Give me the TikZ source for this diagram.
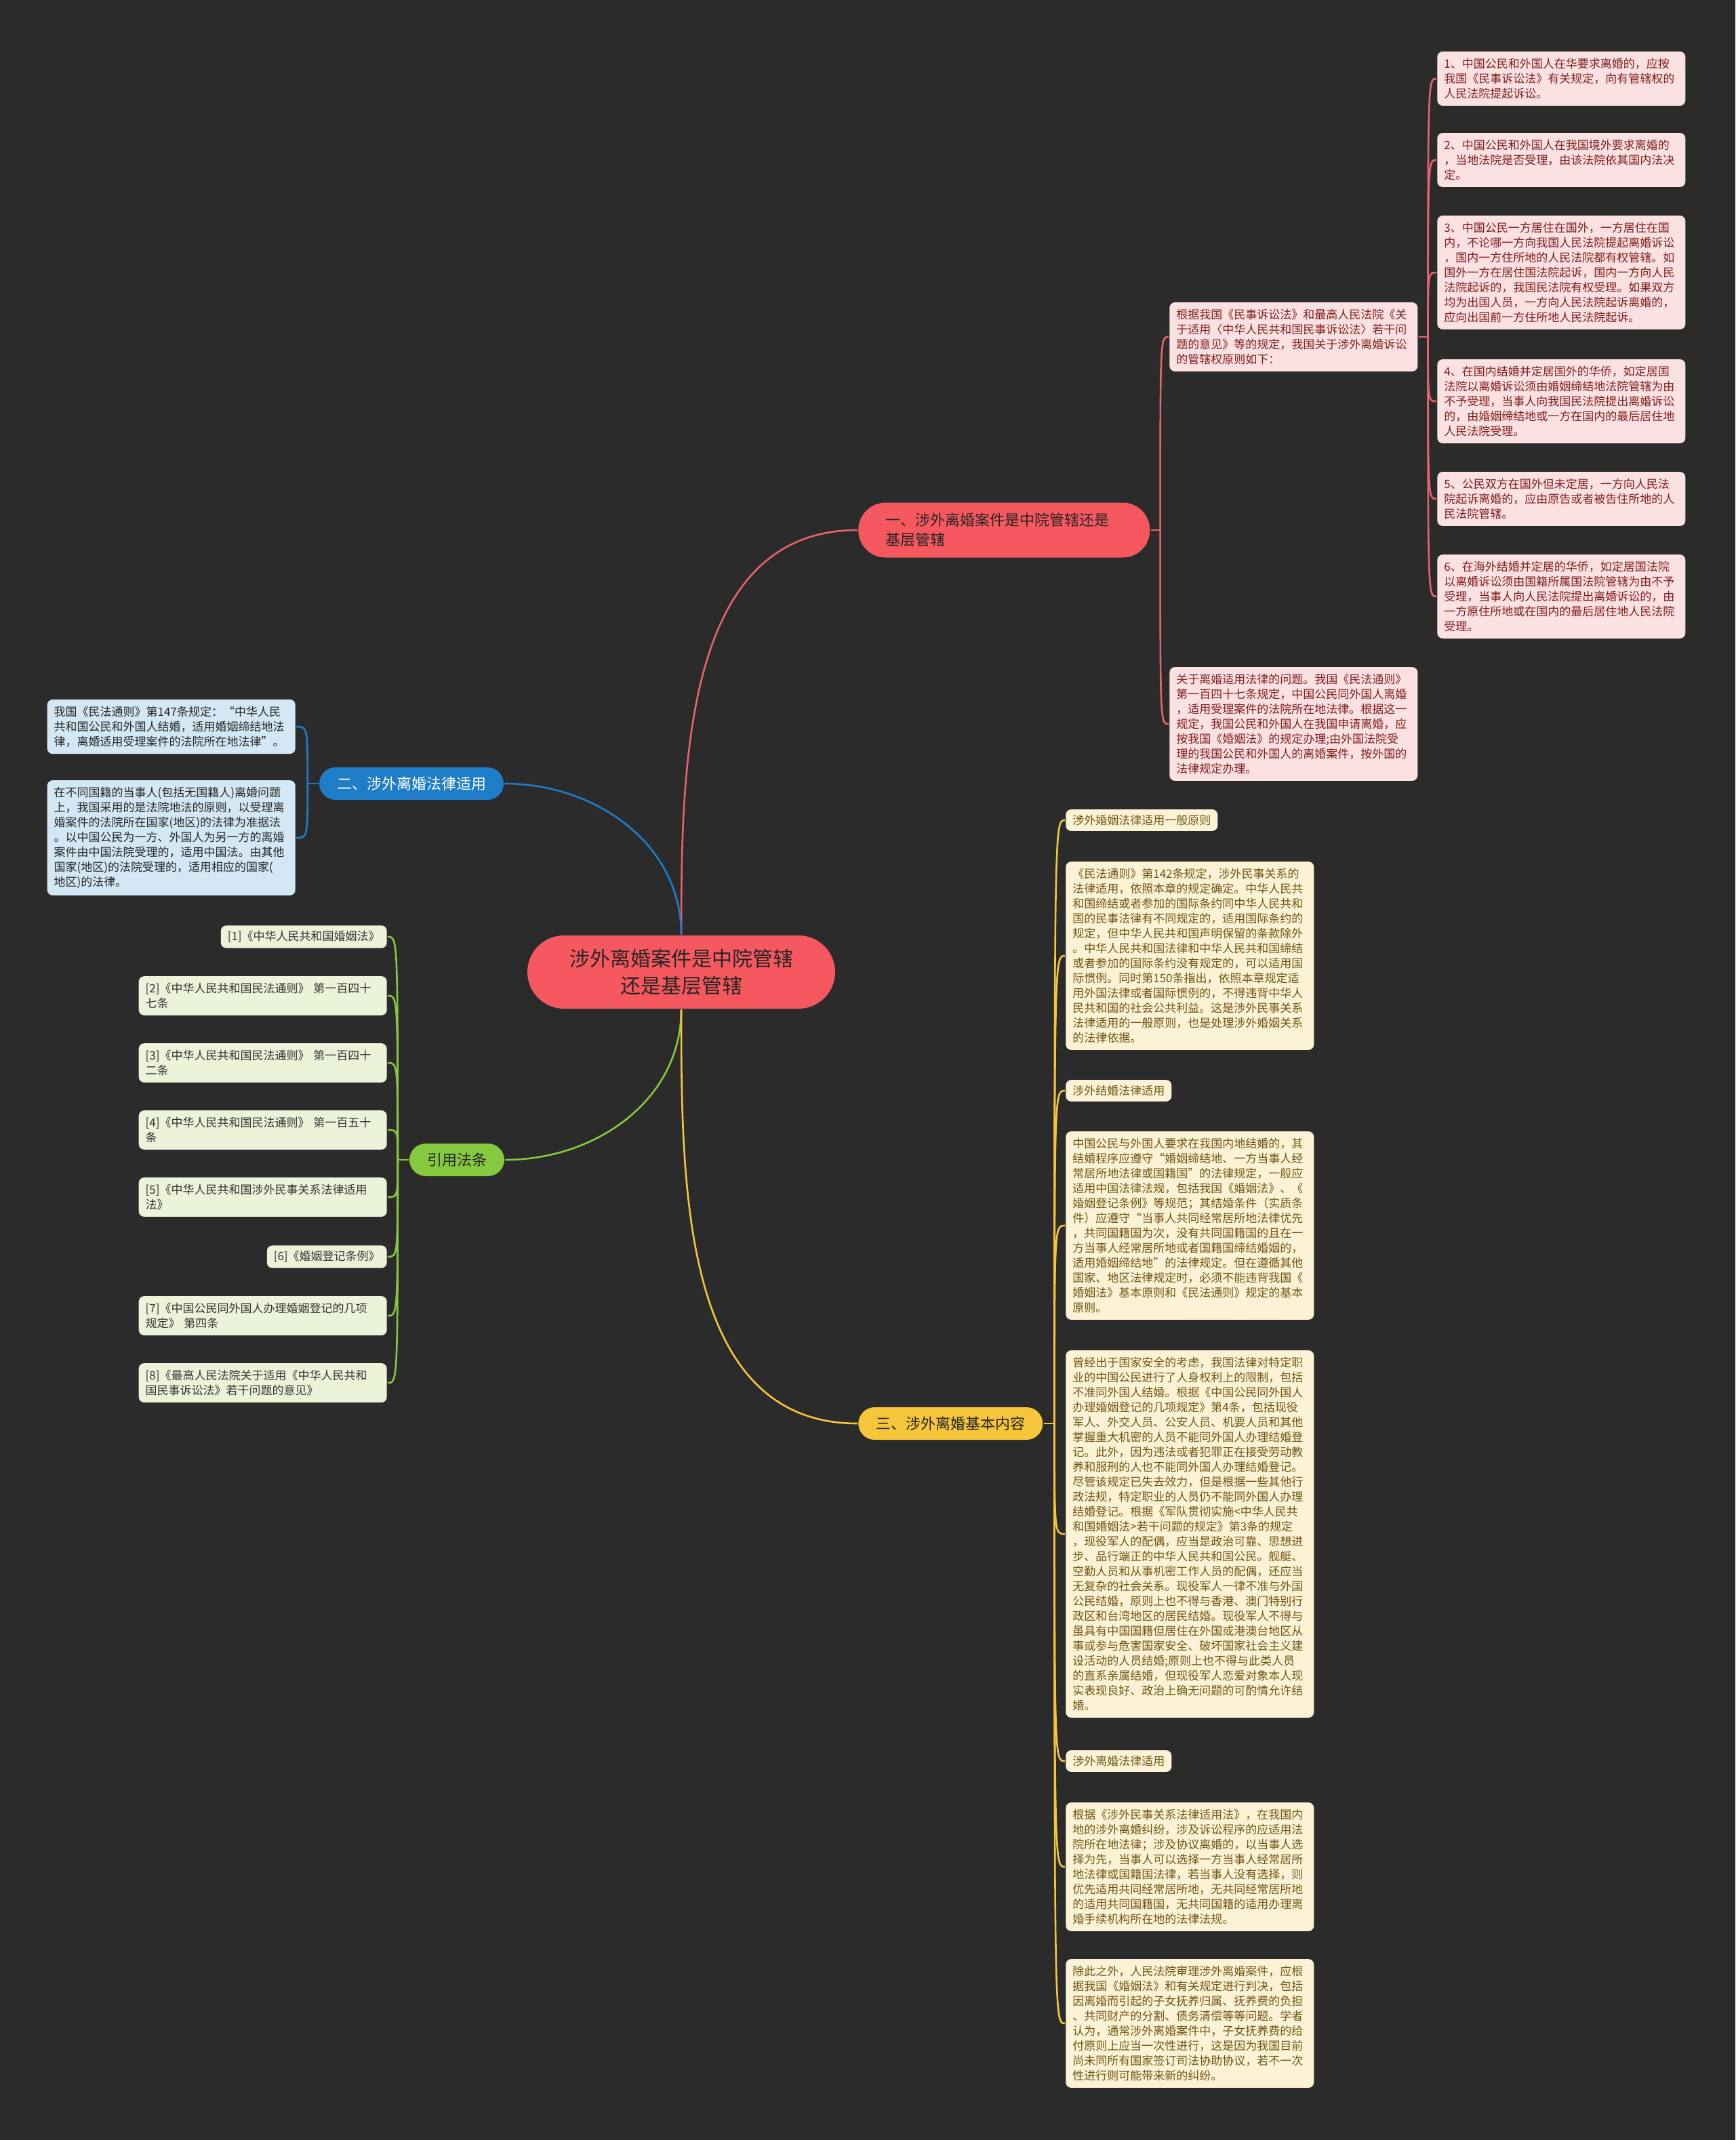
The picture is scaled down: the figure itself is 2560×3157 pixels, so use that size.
\documentclass[tikz,border=0pt]{standalone}
\usepackage{fontspec}
\setmainfont{Noto Sans CJK SC}
\definecolor{bgdark}{HTML}{2B2B2B}
\definecolor{redmain}{HTML}{F6585F}
\definecolor{redline}{HTML}{E8636B}
\definecolor{redleaf}{HTML}{FCE1E2}
\definecolor{redtext}{HTML}{7E1C1C}
\definecolor{bluemain}{HTML}{1F7DC8}
\definecolor{blueleaf}{HTML}{D3E7F4}
\definecolor{greenmain}{HTML}{86C83E}
\definecolor{greenleaf}{HTML}{EBF3D9}
\definecolor{yellowmain}{HTML}{F6C63A}
\definecolor{yellowleaf}{HTML}{FCF3D6}
\definecolor{yellowtext}{HTML}{6E5512}

\begin{document}
\begin{tikzpicture}
[x=0.5pt,y=-0.5pt,line width=1.3pt,
  leaf/.style={rounded corners=4pt,inner xsep=5pt,inner ysep=5pt,align=left,text width=173pt,font=\fontsize{8.5}{11}\selectfont},
  tag/.style={rounded corners=4pt,inner xsep=5pt,inner ysep=4pt,font=\fontsize{8.5}{11}\selectfont},
  topic/.style={inner xsep=13pt,inner ysep=0pt,minimum height=24pt,rounded corners=12pt,font=\fontsize{11}{14.5}\selectfont},
  redbox/.style={fill=redleaf,text=redtext},
  bluebox/.style={fill=blueleaf,text=black!85},
  greenbox/.style={fill=greenleaf,text=black!80},
  yellowbox/.style={fill=yellowleaf,text=yellowtext}]
\fill[bgdark] (0,0) rectangle (2560,3157);
\useasboundingbox (0,0) rectangle (2560,3157);

\node[fill=redmain,text=black!85,align=center,inner xsep=31pt,inner ysep=0pt,minimum height=54pt,rounded corners=27pt,font=\fontsize{15}{20}\selectfont]
  (root) at (1005,1434) {涉外离婚案件是中院管辖\\还是基层管辖};

\node[fill=redmain,text=black!85,anchor=west,align=left,text width=175pt,inner xsep=20pt,inner ysep=0pt,minimum height=40.5pt,rounded corners=20pt,font=\fontsize{11}{14.5}\selectfont]
  (court) at (1265,782) {一、涉外离婚案件是中院管辖还是\\基层管辖};
\node[topic,fill=bluemain,text=white] (lawuse) at (607,1156) {二、涉外离婚法律适用};
\node[topic,fill=greenmain,text=black!85] (refs) at (674,1711) {引用法条};
\node[topic,fill=yellowmain,text=black!85,anchor=west] (basics) at (1265,2100) {三、涉外离婚基本内容};

\node[leaf,redbox,anchor=west] (rules) at (1724,497) {根据我国《民事诉讼法》和最高人民法院《关\\于适用〈中华人民共和国民事诉讼法〉若干问\\题的意见》等的规定，我国关于涉外离婚诉讼\\的管辖权原则如下：};
\node[leaf,redbox,anchor=west] (applaw) at (1724,1068) {关于离婚适用法律的问题。我国《民法通则》\\第一百四十七条规定，中国公民同外国人离婚\\，适用受理案件的法院所在地法律。根据这一\\规定，我国公民和外国人在我国申请离婚，应\\按我国《婚姻法》的规定办理;由外国法院受\\理的我国公民和外国人的离婚案件，按外国的\\法律规定办理。};

\node[leaf,redbox,anchor=west] (rule1) at (2119,116) {1、中国公民和外国人在华要求离婚的，应按\\我国《民事诉讼法》有关规定，向有管辖权的\\人民法院提起诉讼。};
\node[leaf,redbox,anchor=west] (rule2) at (2119,236) {2、中国公民和外国人在我国境外要求离婚的\\，当地法院是否受理，由该法院依其国内法决\\定。};
\node[leaf,redbox,anchor=west] (rule3) at (2119,402) {3、中国公民一方居住在国外，一方居住在国\\内，不论哪一方向我国人民法院提起离婚诉讼\\，国内一方住所地的人民法院都有权管辖。如\\国外一方在居住国法院起诉，国内一方向人民\\法院起诉的，我国民法院有权受理。如果双方\\均为出国人员，一方向人民法院起诉离婚的，\\应向出国前一方住所地人民法院起诉。};
\node[leaf,redbox,anchor=west] (rule4) at (2119,592) {4、在国内结婚并定居国外的华侨，如定居国\\法院以离婚诉讼须由婚姻缔结地法院管辖为由\\不予受理，当事人向我国民法院提出离婚诉讼\\的，由婚姻缔结地或一方在国内的最后居住地\\人民法院受理。};
\node[leaf,redbox,anchor=west] (rule5) at (2119,736) {5、公民双方在国外但未定居，一方向人民法\\院起诉离婚的，应由原告或者被告住所地的人\\民法院管辖。};
\node[leaf,redbox,anchor=west] (rule6) at (2119,880) {6、在海外结婚并定居的华侨，如定居国法院\\以离婚诉讼须由国籍所属国法院管辖为由不予\\受理，当事人向人民法院提出离婚诉讼的，由\\一方原住所地或在国内的最后居住地人民法院\\受理。};

\node[leaf,bluebox,anchor=east] (art147) at (437,1072) {我国《民法通则》第147条规定：“中华人民\\共和国公民和外国人结婚，适用婚姻缔结地法\\律，离婚适用受理案件的法院所在地法律”。};
\node[leaf,bluebox,anchor=east] (forum) at (437,1236) {在不同国籍的当事人(包括无国籍人)离婚问题\\上，我国采用的是法院地法的原则，以受理离\\婚案件的法院所在国家(地区)的法律为准据法\\。以中国公民为一方、外国人为另一方的离婚\\案件由中国法院受理的，适用中国法。由其他\\国家(地区)的法院受理的，适用相应的国家(\\地区)的法律。};

\node[tag,greenbox,anchor=east] (ref1) at (572,1382) {[1]《中华人民共和国婚姻法》};
\node[leaf,greenbox,anchor=east] (ref2) at (572,1469) {[2]《中华人民共和国民法通则》 第一百四十\\七条};
\node[leaf,greenbox,anchor=east] (ref3) at (572,1568) {[3]《中华人民共和国民法通则》 第一百四十\\二条};
\node[leaf,greenbox,anchor=east] (ref4) at (572,1667) {[4]《中华人民共和国民法通则》 第一百五十\\条};
\node[leaf,greenbox,anchor=east] (ref5) at (572,1766) {[5]《中华人民共和国涉外民事关系法律适用\\法》};
\node[tag,greenbox,anchor=east] (ref6) at (572,1854) {[6]《婚姻登记条例》};
\node[leaf,greenbox,anchor=east] (ref7) at (572,1941) {[7]《中国公民同外国人办理婚姻登记的几项\\规定》 第四条};
\node[leaf,greenbox,anchor=east] (ref8) at (572,2040) {[8]《最高人民法院关于适用《中华人民共和\\国民事诉讼法》若干问题的意见》};

\node[tag,yellowbox,anchor=west] (gen) at (1571,1210) {涉外婚姻法律适用一般原则};
\node[leaf,yellowbox,anchor=west] (gentext) at (1571,1410) {《民法通则》第142条规定，涉外民事关系的\\法律适用，依照本章的规定确定。中华人民共\\和国缔结或者参加的国际条约同中华人民共和\\国的民事法律有不同规定的，适用国际条约的\\规定，但中华人民共和国声明保留的条款除外\\。中华人民共和国法律和中华人民共和国缔结\\或者参加的国际条约没有规定的，可以适用国\\际惯例。同时第150条指出，依照本章规定适\\用外国法律或者国际惯例的，不得违背中华人\\民共和国的社会公共利益。这是涉外民事关系\\法律适用的一般原则，也是处理涉外婚姻关系\\的法律依据。};
\node[tag,yellowbox,anchor=west] (wed) at (1571,1609) {涉外结婚法律适用};
\node[leaf,yellowbox,anchor=west] (wedtext) at (1571,1808) {中国公民与外国人要求在我国内地结婚的，其\\结婚程序应遵守“婚姻缔结地、一方当事人经\\常居所地法律或国籍国”的法律规定，一般应\\适用中国法律法规，包括我国《婚姻法》、《\\婚姻登记条例》等规范；其结婚条件（实质条\\件）应遵守“当事人共同经常居所地法律优先\\，共同国籍国为次，没有共同国籍国的且在一\\方当事人经常居所地或者国籍国缔结婚姻的，\\适用婚姻缔结地”的法律规定。但在遵循其他\\国家、地区法律规定时，必须不能违背我国《\\婚姻法》基本原则和《民法通则》规定的基本\\原则。};
\node[leaf,yellowbox,anchor=west] (limit) at (1571,2263) {曾经出于国家安全的考虑，我国法律对特定职\\业的中国公民进行了人身权利上的限制，包括\\不准同外国人结婚。根据《中国公民同外国人\\办理婚姻登记的几项规定》第4条，包括现役\\军人、外交人员、公安人员、机要人员和其他\\掌握重大机密的人员不能同外国人办理结婚登\\记。此外，因为违法或者犯罪正在接受劳动教\\养和服刑的人也不能同外国人办理结婚登记。\\尽管该规定已失去效力，但是根据一些其他行\\政法规，特定职业的人员仍不能同外国人办理\\结婚登记。根据《军队贯彻实施<中华人民共\\和国婚姻法>若干问题的规定》第3条的规定\\，现役军人的配偶，应当是政治可靠、思想进\\步、品行端正的中华人民共和国公民。舰艇、\\空勤人员和从事机密工作人员的配偶，还应当\\无复杂的社会关系。现役军人一律不准与外国\\公民结婚，原则上也不得与香港、澳门特别行\\政区和台湾地区的居民结婚。现役军人不得与\\虽具有中国国籍但居住在外国或港澳台地区从\\事或参与危害国家安全、破坏国家社会主义建\\设活动的人员结婚;原则上也不得与此类人员\\的直系亲属结婚，但现役军人恋爱对象本人现\\实表现良好、政治上确无问题的可酌情允许结\\婚。};
\node[tag,yellowbox,anchor=west] (div) at (1571,2598) {涉外离婚法律适用};
\node[leaf,yellowbox,anchor=west] (divtext) at (1571,2754) {根据《涉外民事关系法律适用法》，在我国内\\地的涉外离婚纠纷，涉及诉讼程序的应适用法\\院所在地法律；涉及协议离婚的，以当事人选\\择为先，当事人可以选择一方当事人经常居所\\地法律或国籍国法律，若当事人没有选择，则\\优先适用共同经常居所地，无共同经常居所地\\的适用共同国籍国，无共同国籍的适用办理离\\婚手续机构所在地的法律法规。};
\node[leaf,yellowbox,anchor=west] (judge) at (1571,2985) {除此之外，人民法院审理涉外离婚案件，应根\\据我国《婚姻法》和有关规定进行判决，包括\\因离婚而引起的子女抚养归属、抚养费的负担\\、共同财产的分割、债务清偿等等问题。学者\\认为，通常涉外离婚案件中，子女抚养费的给\\付原则上应当一次性进行，这是因为我国目前\\尚未同所有国家签订司法协助协议，若不一次\\性进行则可能带来新的纠纷。};

\draw[redline] (root.north) to[out=90,in=180] (court.west);
\draw[bluemain] (root.north) to[out=90,in=0] (lawuse.east);
\draw[greenmain] (root.south) to[out=-90,in=0] (refs.east);
\draw[yellowmain] (root.south) to[out=-90,in=180] (basics.west);

\coordinate (courtj) at ([xshift=7pt]court.east);
\coordinate (rulesj) at ([xshift=7pt]rules.east);
\coordinate (lawusej) at ([xshift=-8pt]lawuse.west);
\coordinate (refsj) at ([xshift=-8pt]refs.west);
\coordinate (basicsj) at ([xshift=8pt]basics.east);

\draw[redline] (court.east) -- (courtj);
\foreach \n in {rules,applaw}
  \draw[redline] (courtj) .. controls (courtj |- \n.west) .. (\n.west);
\draw[redline] (rules.east) -- (rulesj);
\foreach \n in {rule1,rule2,rule3,rule4,rule5,rule6}
  \draw[redline] (rulesj) .. controls (rulesj |- \n.west) .. (\n.west);
\draw[bluemain] (lawuse.west) -- (lawusej);
\foreach \n in {art147,forum}
  \draw[bluemain] (lawusej) .. controls (lawusej |- \n.east) .. (\n.east);
\draw[greenmain] (refs.west) -- (refsj);
\foreach \n in {ref1,ref2,ref3,ref4,ref5,ref6,ref7,ref8}
  \draw[greenmain] (refsj) .. controls (refsj |- \n.east) .. (\n.east);
\draw[yellowmain] (basics.east) -- (basicsj);
\foreach \n in {gen,gentext,wed,wedtext,limit,div,divtext,judge}
  \draw[yellowmain] (basicsj) .. controls (basicsj |- \n.west) .. (\n.west);
\end{tikzpicture}
\end{document}
